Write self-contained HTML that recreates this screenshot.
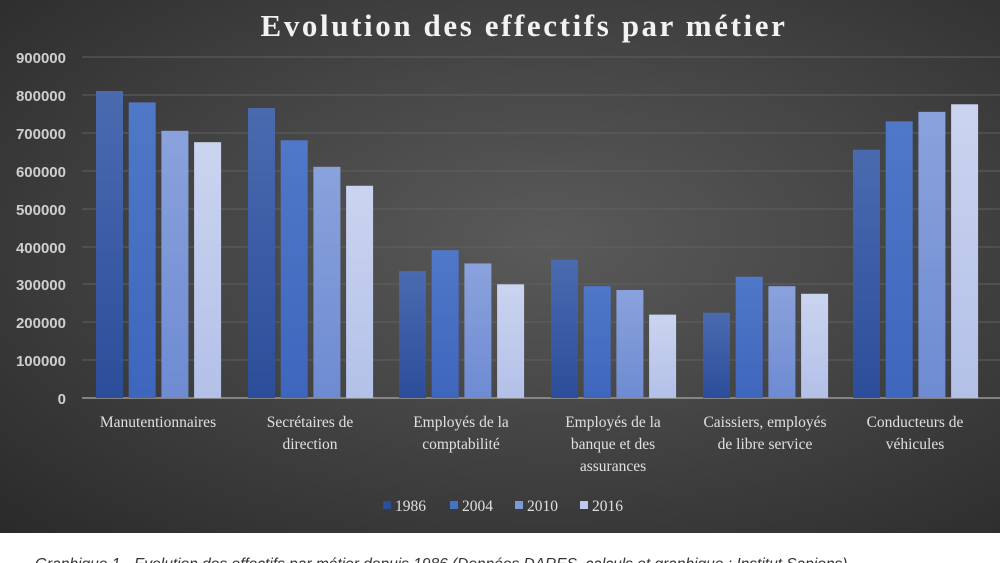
<!DOCTYPE html>
<html><head><meta charset="utf-8"><style>
body{margin:0;width:1000px;height:563px;overflow:hidden;background:#fff;font-family:"Liberation Serif",serif}
#c{position:absolute;left:0;top:0;width:1000px;height:533px;background:radial-gradient(ellipse at 55% 45%,#5a5a5a 0%,#454545 45%,#2a2a2a 100%)}
</style></head><body>
<div id="c"></div>
<svg width="1000" height="563" style="position:absolute;left:0;top:0">
<defs>
<linearGradient id="g1" x1="0" y1="0" x2="0" y2="1"><stop offset="0" stop-color="#4a6ab0"/><stop offset="1" stop-color="#2c4e9a"/></linearGradient>
<linearGradient id="g2" x1="0" y1="0" x2="0" y2="1"><stop offset="0" stop-color="#4f78c8"/><stop offset="1" stop-color="#3e66bd"/></linearGradient>
<linearGradient id="g3" x1="0" y1="0" x2="0" y2="1"><stop offset="0" stop-color="#8aa2dc"/><stop offset="1" stop-color="#6e8bd2"/></linearGradient>
<linearGradient id="g4" x1="0" y1="0" x2="0" y2="1"><stop offset="0" stop-color="#cbd4ef"/><stop offset="1" stop-color="#b3c0e8"/></linearGradient>
</defs>
<text x="524" y="36" text-anchor="middle" font-family="Liberation Serif" font-weight="bold" font-size="31" fill="#f2f2f2" letter-spacing="2.6">Evolution des effectifs par métier</text>
<g stroke="#606060" stroke-width="1">
<line x1="82" x2="1000" y1="57" y2="57"/><line x1="82" x2="1000" y1="95" y2="95"/><line x1="82" x2="1000" y1="133" y2="133"/><line x1="82" x2="1000" y1="171" y2="171"/><line x1="82" x2="1000" y1="209" y2="209"/><line x1="82" x2="1000" y1="247" y2="247"/><line x1="82" x2="1000" y1="284" y2="284"/><line x1="82" x2="1000" y1="322" y2="322"/><line x1="82" x2="1000" y1="360" y2="360"/>
</g>
<line x1="82" x2="1000" y1="398" y2="398" stroke="#9a9a9a" stroke-width="1.5"/>
<g font-family="Liberation Sans" font-weight="bold" font-size="15" fill="#cfcfcf" text-anchor="end">
<text x="66" y="63">900000</text><text x="66" y="101">800000</text><text x="66" y="139">700000</text><text x="66" y="177">600000</text><text x="66" y="215">500000</text><text x="66" y="253">400000</text><text x="66" y="290">300000</text><text x="66" y="328">200000</text><text x="66" y="366">100000</text><text x="66" y="404">0</text>
</g>
<g id="bars"></g>
<g font-family="Liberation Serif" font-size="15.5" fill="#e0e0e0" text-anchor="middle">
<text x="158" y="427">Manutentionnaires</text>
<text x="310" y="427">Secrétaires de</text><text x="310" y="449">direction</text>
<text x="461" y="427">Employés de la</text><text x="461" y="449">comptabilité</text>
<text x="613" y="427">Employés de la</text><text x="613" y="449">banque et des</text><text x="613" y="471">assurances</text>
<text x="765" y="427">Caissiers, employés</text><text x="765" y="449">de libre service</text>
<text x="915" y="427">Conducteurs de</text><text x="915" y="449">véhicules</text>
</g>
<g font-family="Liberation Serif" font-size="15.5" fill="#e0e0e0">
<rect x="383" y="501" width="8" height="8" fill="#2c4e9a"/><text x="395" y="511">1986</text>
<rect x="450" y="501" width="8" height="8" fill="#4472c4"/><text x="462" y="511">2004</text>
<rect x="515" y="501" width="8" height="8" fill="#7f98d8"/><text x="527" y="511">2010</text>
<rect x="580" y="501" width="8" height="8" fill="#c0cbec"/><text x="592" y="511">2016</text>
</g>
<text x="35" y="569" font-family="Liberation Sans" font-style="italic" font-size="15.5" fill="#333">Graphique 1 - Evolution des effectifs par métier depuis 1986 (Données DARES, calculs et graphique : Institut Sapiens)</text>
</svg>
<script>
var d=[[810,780,705,675],[765,680,610,560],[335,390,355,300],[365,295,285,220],[225,320,295,275],[655,730,755,775]];
var s=[96,248,399,551,703,853],g=document.getElementById('bars'),h='';
d.forEach(function(r,i){r.forEach(function(v,j){var y=398-v*0.379;h+='<rect x="'+(s[i]+j*32.7)+'" y="'+y+'" width="27" height="'+(398-y)+'" fill="url(#g'+(j+1)+')"/>';});});
g.innerHTML=h;
</script>
</body></html>
